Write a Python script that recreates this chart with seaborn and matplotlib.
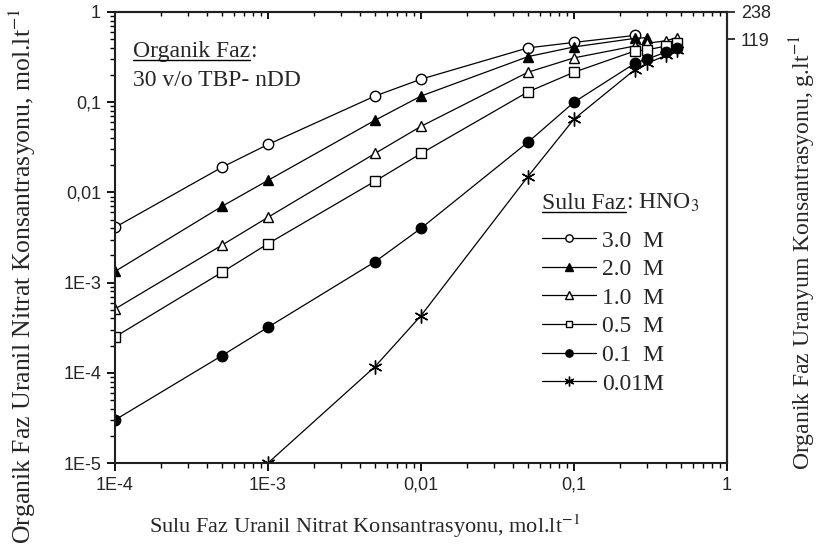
import pandas as pd
import matplotlib
matplotlib.use("Agg")
import matplotlib.pyplot as plt
import seaborn as sns
from matplotlib.lines import Line2D
from matplotlib.ticker import NullFormatter, NullLocator, LogLocator

# --- Daten ---
x_all = [1e-4, 5e-4, 1e-3, 5e-3, 1e-2, 5e-2, 0.1, 0.25, 0.3, 0.4, 0.47]

hno3_30_x = [1e-4, 5e-4, 1e-3, 5e-3, 1e-2, 5e-2, 0.1, 0.25]
hno3_30_y = [0.0041, 0.019, 0.034, 0.117, 0.18, 0.40, 0.46, 0.55]

hno3_20_x = [1e-4, 5e-4, 1e-3, 5e-3, 1e-2, 5e-2, 0.1, 0.25, 0.3]
hno3_20_y = [0.00133, 0.007, 0.0136, 0.063, 0.117, 0.32, 0.41, 0.51, 0.52]

hno3_10_x = x_all
hno3_10_y = [0.00051, 0.0026, 0.0053, 0.027, 0.054, 0.215, 0.31, 0.42, 0.45, 0.48, 0.52]

hno3_05_x = x_all
hno3_05_y = [0.00025, 0.0013, 0.0027, 0.0133, 0.027, 0.13, 0.215, 0.37, 0.38, 0.42, 0.45]

hno3_01_x = x_all
hno3_01_y = [3.0e-5, 1.55e-4, 3.2e-4, 1.7e-3, 0.004, 0.036, 0.10, 0.27, 0.30, 0.36, 0.40]

hno3_001_x = [1e-3, 5e-3, 1e-2, 5e-2, 0.1, 0.25, 0.3, 0.4, 0.47]
hno3_001_y = [1.0e-5, 1.17e-4, 4.3e-4, 0.015, 0.065, 0.23, 0.27, 0.33, 0.38]

series_labels = ["3.0  M", "2.0  M", "1.0  M", "0.5  M", "0.1  M", "0.01M"]
series_x = [hno3_30_x, hno3_20_x, hno3_10_x, hno3_05_x, hno3_01_x, hno3_001_x]
series_y = [hno3_30_y, hno3_20_y, hno3_10_y, hno3_05_y, hno3_01_y, hno3_001_y]

x_ticks = [1e-4, 1e-3, 1e-2, 1e-1, 1]
x_tick_labels = ["1E-4", "1E-3", "0,01", "0,1", "1"]
y_ticks = [1e-5, 1e-4, 1e-3, 1e-2, 1e-1, 1]
y_tick_labels = ["1E-5", "1E-4", "1E-3", "0,01", "0,1", "1"]
y2_ticks = [119, 238]
y2_tick_labels = ["119", "238"]
molar_mass = 238  # g/mol Uran

# Marker je Serie: (marker, Füllung, Größe)
marker_styles = [("o", "white", 7.5), ("^", "black", 7.5), ("^", "white", 7.5),
                 ("s", "white", 7.0), ("o", "black", 7.5), ((6, 2, 0), "black", 10)]

frames = []
for lab, xs, ys in zip(series_labels, series_x, series_y):
    frames.append(pd.DataFrame({"aq": xs, "org": ys, "HNO3": lab}))
df = pd.concat(frames, ignore_index=True)

# --- Plot ---
sns.set_theme(style="ticks")
plt.rcParams["font.family"] = ["Liberation Serif", "DejaVu Serif"]
plt.rcParams["mathtext.fontset"] = "stix"

fig = plt.figure(figsize=(8.19, 5.51), dpi=100)
ax = fig.add_axes([115 / 819, 88 / 551, 612 / 819, 451 / 551])
ax.set_xscale("log")
ax.set_yscale("log")

for lab, (mk, face, ms) in zip(series_labels, marker_styles):
    sub = df[df["HNO3"] == lab]
    sns.lineplot(data=sub, x="aq", y="org", ax=ax, color="black", lw=0.9,
                 marker=mk, markersize=ms, markerfacecolor=face,
                 markeredgecolor="black", markeredgewidth=1.0,
                 errorbar=None, estimator=None, sort=True)

ax.set_xlim(1e-4, 1)
ax.set_ylim(1e-5, 1)
ax.set_xticks(x_ticks, labels=x_tick_labels)
ax.set_yticks(y_ticks, labels=y_tick_labels)
ax.xaxis.set_minor_formatter(NullFormatter())
ax.yaxis.set_minor_formatter(NullFormatter())
ax.tick_params(which="both", direction="out", labelsize=13,
               labelfontfamily="Liberation Sans", color="black")
ax.tick_params(which="major", length=6, width=1.3, pad=4)
ax.tick_params(which="minor", length=3.5, width=1.0)
for sp in ax.spines.values():
    sp.set_linewidth(1.5)
    sp.set_color("black")

ax.set_xlabel("Sulu Faz Uranil Nitrat Konsantrasyonu, mol.lt$^{-1}$", fontsize=16)
ax.set_ylabel("Organik Faz Uranil Nitrat Konsantrasyonu, mol.lt$^{-1}$", fontsize=18.5)
ax.xaxis.set_label_coords((365 - 115) / 612, -(512 - 463) / 451)
ax.yaxis.set_label_coords(-(115 - 38) / 612, 1 - (276 - 12) / 451)

# obere Achse: Ticks nach innen
top = ax.secondary_xaxis("top")
top.set_xticks(x_ticks, labels=[""] * len(x_ticks))
top.xaxis.set_minor_locator(LogLocator(subs=range(2, 10)))
top.xaxis.set_minor_formatter(NullFormatter())
top.tick_params(which="both", direction="in", color="black")
top.tick_params(which="major", length=5, width=1.3)
top.tick_params(which="minor", length=3, width=1.0)
top.spines["top"].set_linewidth(1.5)

# rechte Achse in g/l
ax2 = ax.twinx()
ax2.set_yscale("log")
ax2.set_ylim(1e-5 * molar_mass, 1 * molar_mass)
ax2.set_yticks(y2_ticks, labels=y2_tick_labels)
ax2.yaxis.set_minor_locator(NullLocator())
ax2.tick_params(axis="y", direction="out", length=6, width=1.3, labelsize=13,
                labelfontfamily="Liberation Sans", pad=4)
ax2.spines["right"].set_linewidth(1.5)
ax2.set_ylabel("Organik Faz Uranyum Konsantrasyonu, g.lt$^{-1}$", fontsize=17)
ax2.yaxis.set_label_coords(1 + (788 - 727) / 612, 1 - (253 - 12) / 451)

# Legende
leg = ax.legend(handles=ax.lines[:len(series_labels)], labels=series_labels,
                loc="upper left", bbox_to_anchor=((542 - 115) / 612, 1 - (230 - 12) / 451),
                frameon=False, fontsize=17, handlelength=2.3, handletextpad=0.25,
                labelspacing=0.3, borderpad=0, borderaxespad=0, markerscale=0.7)


# Beschriftungen mit Unterstreichung (Pixelpositionen -> Achsenkoordinaten)
def to_axes(px, py):
    return (px - 115) / 612, 1 - (py - 12) / 451


t_org = ax.text(*to_axes(133, 57), "Organik Faz", fontsize=17, va="baseline",
                transform=ax.transAxes)
ax.text(*to_axes(133, 86), "30 v/o TBP- nDD", fontsize=17, va="baseline",
        transform=ax.transAxes)
t_sulu = ax.text(*to_axes(542, 209), "Sulu Faz", fontsize=17, va="baseline",
                 transform=ax.transAxes)

fig.canvas.draw()
H = fig.get_figheight() * fig.dpi
for t, py, rest in [(t_org, 57, ":"), (t_sulu, 209, ": HNO$_3$")]:
    bb = t.get_window_extent()
    ax.text(*to_axes(bb.x1, py), rest, fontsize=17, va="baseline",
            transform=ax.transAxes)
    y_line = (H - py - 2.5) / H
    fig.add_artist(Line2D([bb.x0 / 819, bb.x1 / 819], [y_line, y_line],
                          color="black", lw=1.0))

fig.savefig("out.png", dpi=100)
